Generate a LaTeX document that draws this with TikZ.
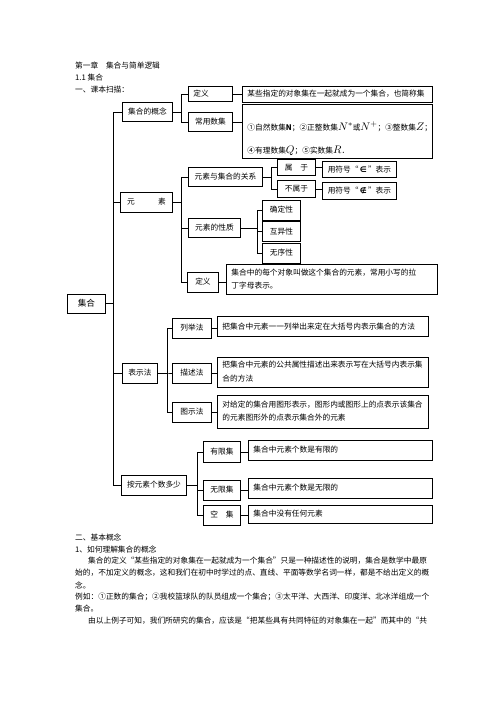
\documentclass[tikz,border=0pt]{standalone}
\usepackage{fontspec}
\setmainfont{Noto Sans CJK SC}
\newfontfamily\fuhao{DejaVu Sans}
\usepackage{tikz}

\newcommand\shuji[1]{{\fontsize{11}{11}\selectfont$#1$}}

\tikzset{
  kuang/.style={draw, line width=0.9pt, anchor=west, inner xsep=3pt, inner ysep=0pt},
  wenzi/.style={kuang, align=left, inner xsep=5pt},
  hang/.style={anchor=west, inner sep=0pt},
  lian/.style={line width=0.8pt},
}

\begin{document}
\begin{tikzpicture}[x=1pt,y=-1pt,font=\fontsize{7.7}{9}\selectfont]
  \useasboundingbox (0,0) rectangle (496,702);
  % header
  \node[hang] (zhang) at (75,66) {第一章　集合与简单逻辑};
  \node[hang] (jie) at (75,78) {1.1 集合};
  \node[hang] (saomiao) at (75,90) {一、课本扫描：};

  \node[kuang, minimum width=38pt, minimum height=19pt, font=\fontsize{8.6}{10}\selectfont] (jihe) at (67,303.5) {集合};

  % concept
  \node[kuang, minimum width=50pt, minimum height=19pt] (gainian) at (122,112) {集合的概念};
  \node[kuang, text width=34pt, align=left, inner xsep=5pt, minimum height=15pt] (dingyi) at (188,94) {定义};
  \node[kuang, minimum width=44pt, minimum height=19pt] (changyong) at (188,122) {常用数集};
  \node[wenzi, text width=180pt, minimum height=16pt] (dingyiT) at (242,94) {某些指定的对象集在一起就成为一个集合，也简称集};
  \node[wenzi, text width=180pt, anchor=north west, inner ysep=2pt] (changyongT) at (242,104) {\mbox{}\\[15pt]①自然数集$\mathbf{N}$；②正整数集\shuji{N^*}或\shuji{N^+}；③整数集\shuji{Z}；\\[14.5pt]④有理数集\shuji{Q}；⑤实数集\shuji{R}．};

  % element
  \node[kuang, minimum width=52pt, minimum height=20pt] (yuansu) at (120,202) {元　　　素};
  \node[kuang, minimum width=74pt, minimum height=19pt] (guanxi) at (188,177) {元素与集合的关系};
  \node[kuang, minimum width=38pt, minimum height=16pt] (shuyu) at (277,167.5) {属　于};
  \node[kuang, minimum width=38pt, minimum height=17pt] (bushuyu) at (277,189) {不属于};
  \node[kuang, minimum width=74pt, minimum height=16pt] (fuhaoA) at (322,169.5) {用符号“\,{\fuhao\bfseries ∈}\,”表示};
  \node[kuang, minimum width=74pt, minimum height=17pt] (fuhaoB) at (322,190.5) {用符号“\,{\fuhao\bfseries ∉}\,”表示};
  \node[kuang, minimum width=52pt, minimum height=19pt] (xingzhi) at (188,228) {元素的性质};
  \node[kuang, minimum width=38pt, minimum height=20pt] (queding) at (262,210) {确定性};
  \node[kuang, minimum width=38pt, minimum height=20pt] (huyi) at (262,231.5) {互异性};
  \node[kuang, minimum width=38pt, minimum height=20pt] (wuxu) at (262,253) {无序性};
  \node[kuang, minimum width=31pt, minimum height=20pt] (dingyiB) at (187,282) {定义};
  \node[wenzi, text width=201pt, minimum height=30pt] (dingyiBT) at (226,279) {集合中的每个对象叫做这个集合的元素，常用小写的拉\\[4pt]丁字母表示。};

  % representation
  \node[kuang, minimum width=35pt, minimum height=20pt] (biaoshi) at (122,373) {表示法};
  \node[kuang, minimum width=39pt, minimum height=20pt] (lieju) at (172,328) {列举法};
  \node[kuang, minimum width=39pt, minimum height=20pt] (miaoshu) at (172,373) {描述法};
  \node[kuang, minimum width=39pt, minimum height=20pt] (tushi) at (172,412) {图示法};
  \node[wenzi, text width=201pt, minimum height=20pt] (liejuT) at (217,326.5) {把集合中元素一一列举出来定在大括号内表示集合的方法};
  \node[wenzi, text width=201pt, minimum height=30pt] (miaoshuT) at (217,372) {把集合中元素的公共属性描述出来表示写在大括号内表示集\\[5pt]合的方法};
  \node[wenzi, text width=201pt, minimum height=33pt] (tushiT) at (217,411.5) {对给定的集合用图形表示，图形内或图形上的点表示该集合\\[4pt]的元素图形外的点表示集合外的元素};

  % count
  \node[kuang, minimum width=65pt, minimum height=20pt] (geshu) at (121,485) {按元素个数多少};
  \node[kuang, minimum width=37pt, minimum height=21pt] (youxian) at (203,452) {有限集};
  \node[kuang, minimum width=37pt, minimum height=20pt] (wuxian) at (203,490) {无限集};
  \node[kuang, minimum width=37pt, minimum height=20pt] (kongji) at (203,515) {空　集};
  \node[wenzi, text width=174pt, minimum height=20pt] (youxianT) at (248,450) {集合中元素个数是有限的};
  \node[wenzi, text width=174pt, minimum height=20pt] (wuxianT) at (248,488) {集合中元素个数是无限的};
  \node[wenzi, text width=174pt, minimum height=18pt] (kongT) at (248,514) {集合中没有任何元素};

  % connectors
  \draw[lian] (jihe.east) -- ++(7,0) |- (gainian.west);
  \draw[lian] (jihe.east) -- ++(7,0) |- (yuansu.west);
  \draw[lian] (jihe.east) -- ++(7,0) |- (biaoshi.west);
  \draw[lian] (jihe.east) -- ++(7,0) |- (geshu.west);

  \draw[lian] (gainian.east) -- ++(8,0) |- (dingyi.west);
  \draw[lian] (gainian.east) -- ++(8,0) |- (changyong.west);
  \draw[lian] (dingyi.east) -- (dingyiT.west);
  \draw[lian] (changyong.east) -- (changyong.east -| changyongT.west);

  \draw[lian] (yuansu.east) -- ++(8,0) |- (guanxi.west);
  \draw[lian] (yuansu.east) -- ++(8,0) |- (xingzhi.west);
  \draw[lian] (yuansu.east) -- ++(8,0) |- (dingyiB.west);
  \draw[lian] (guanxi.east) -- ++(8,0) |- (shuyu.west);
  \draw[lian] (guanxi.east) -- ++(8,0) |- (bushuyu.west);
  \draw[lian] (shuyu.east) -- (shuyu.east -| fuhaoA.west);
  \draw[lian] (bushuyu.east) -- (bushuyu.east -| fuhaoB.west);
  \draw[lian] (xingzhi.east) -- ++(16,0) |- (queding.west);
  \draw[lian] (xingzhi.east) -- ++(16,0) |- (huyi.west);
  \draw[lian] (xingzhi.east) -- ++(16,0) |- (wuxu.west);
  \draw[lian] (dingyiB.east) -- (dingyiB.east -| dingyiBT.west);

  \draw[lian] (biaoshi.east) -- ++(9,0) |- (lieju.west);
  \draw[lian] (biaoshi.east) -- ++(9,0) |- (miaoshu.west);
  \draw[lian] (biaoshi.east) -- ++(9,0) |- (tushi.west);
  \draw[lian] (lieju.east) -- (lieju.east -| liejuT.west);
  \draw[lian] (miaoshu.east) -- (miaoshu.east -| miaoshuT.west);
  \draw[lian] (tushi.east) -- (tushi.east -| tushiT.west);

  \draw[lian] (geshu.east) -- ++(10,0) |- (youxian.west);
  \draw[lian] (geshu.east) -- ++(10,0) |- (wuxian.west);
  \draw[lian] (geshu.east) -- ++(10,0) |- (kongji.west);
  \draw[lian] (youxian.east) -- (youxian.east -| youxianT.west);
  \draw[lian] (wuxian.east) -- (wuxian.east -| wuxianT.west);
  \draw[lian] (kongji.east) -- (kongji.east -| kongT.west);

  % text below
  \node[hang] (jiben) at (75,538) {二、基本概念};
  \node[hang] (lijie) at (75,550) {1、如何理解集合的概念};
  \node[hang] (duanA) at (88,561) {集合的定义“某些指定的对象集在一起就成为一个集合”只是一种描述性的说明，集合是数学中最原};
  \node[hang] (duanB) at (75,573) {始的，不加定义的概念，这和我们在初中时学过的点、直线、平面等数学名词一样，都是不给出定义的概};
  \node[hang] (duanC) at (75,585) {念。};
  \node[hang] (liru) at (75,597) {例如：①正数的集合；②我校篮球队的队员组成一个集合；③太平洋、大西洋、印度洋、北冰洋组成一个};
  \node[hang] (liruB) at (75,609) {集合。};
  \node[hang] (duanD) at (88,621) {由以上例子可知，我们所研究的集合，应该是“把某些具有共同特征的对象集在一起”而其中的“共};
\end{tikzpicture}
\end{document}
